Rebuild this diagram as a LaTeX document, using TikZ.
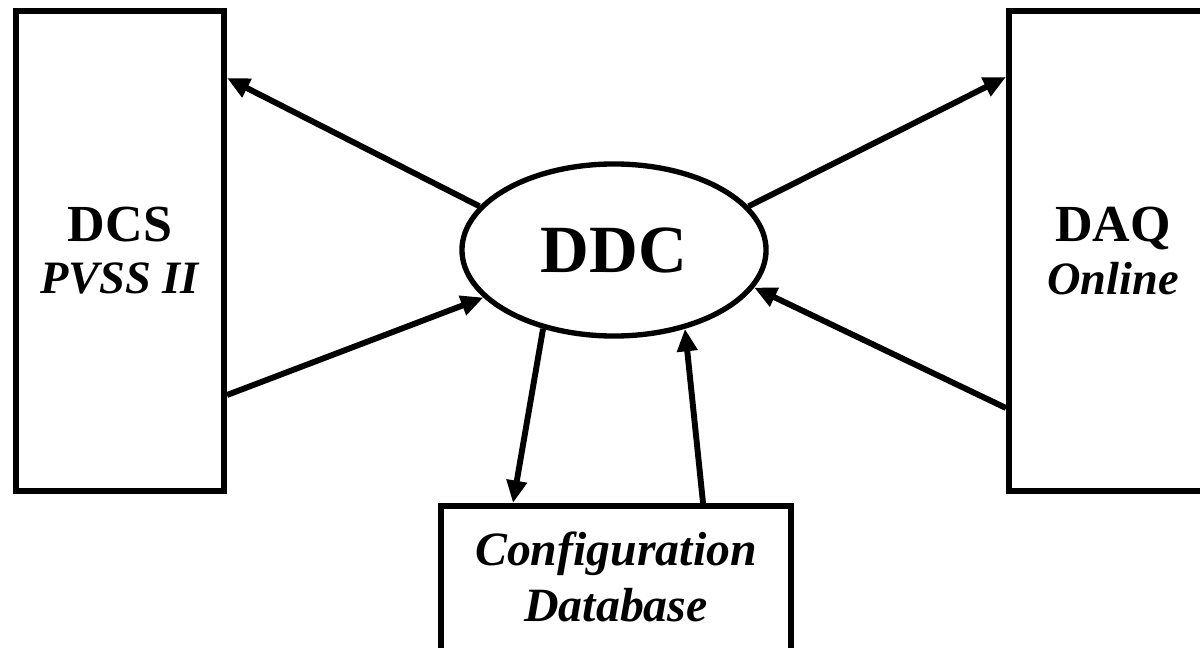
\documentclass[tikz,border=0pt]{standalone}
\usepackage{fontspec}
\setmainfont{Liberation Serif}
\usepackage{tikz}
\usetikzlibrary{shapes.geometric, arrows.meta, positioning, calc}

\begin{document}
\begin{tikzpicture}[
    x=0.025cm, y=-0.025cm,
    system/.style={
        rectangle,
        draw=black,
        line width=4.2pt,
        minimum width=5.2cm,
        minimum height=12cm,
        align=center,
        font=\fontsize{37}{37}\selectfont\bfseries
    },
    store/.style={
        rectangle,
        draw=black,
        line width=4.2pt,
        minimum width=8.75cm,
        minimum height=3.75cm,
        align=center,
        font=\fontsize{34}{40}\selectfont\bfseries\itshape
    },
    hub/.style={
        ellipse,
        draw=black,
        line width=3.8pt,
        minimum width=7.6cm,
        minimum height=4.3cm,
        inner sep=0pt,
        font=\fontsize{48}{50}\selectfont\bfseries
    },
    line/.style={
        draw,
        -{Triangle[length=16pt, width=14pt]},
        line width=4.2pt
    }
]
\useasboundingbox (0,0) rectangle (1200,648);

% Nodes
\node [system] (dcs) at (120,251) {DCS\\\fontsize{33}{37}\selectfont\textit{PVSS II}};
\node [system] (daq) at (1113,251) {DAQ\\\fontsize{33}{37}\selectfont\textit{Online}};
\node [hub] (ddc) at (614,250) {DDC};
\node [store, text depth=0.2cm] (cfg) at (616,581) {Configuration\\Database};

% Edges
\path [line] (ddc.162) -- ([yshift=4.325cm]dcs.east);
\path [line] ([yshift=-3.6cm]dcs.east) -- (ddc.200);
\path [line] (ddc.18) -- ([yshift=4.35cm]daq.west);
\path [line] ([yshift=-3.925cm]daq.west) -- (ddc.345);
\path [line] (ddc.228) -- ([xshift=-2.575cm]cfg.north);
\path [line] ([xshift=2.175cm]cfg.north) -- (ddc.312);

\end{tikzpicture}
\end{document}
